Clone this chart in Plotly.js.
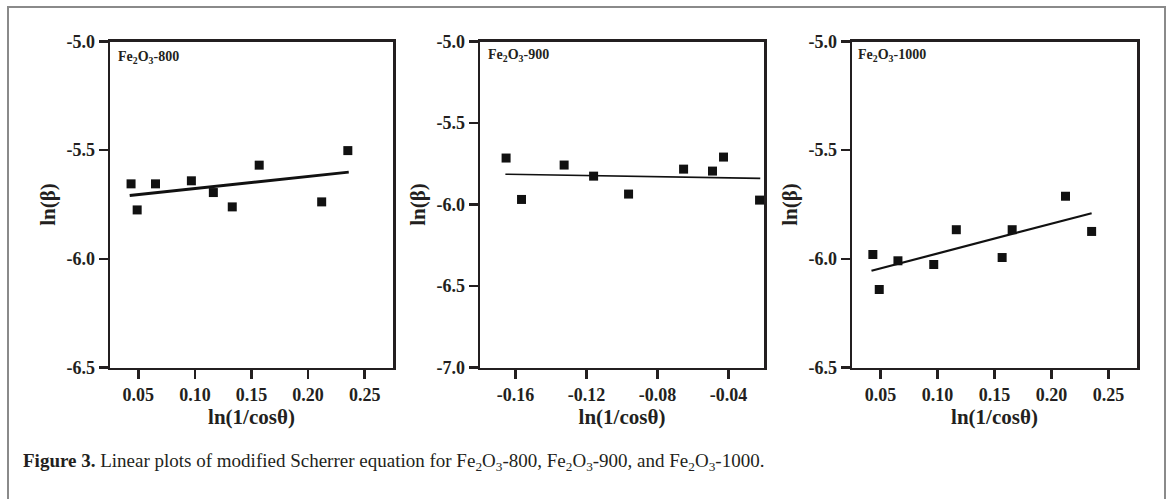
<!DOCTYPE html>
<html>
<head>
<meta charset="utf-8">
<script src="https://cdn.plot.ly/plotly-3.0.1.min.js"></script>
<style>html,body{margin:0;padding:0;background:#fff;}#chart{width:1168px;height:499px;}</style>
</head>
<body>
<div id="chart"></div>
<script>
// Fe2O3-800
const x800 = [0.0436, 0.0490, 0.0652, 0.0969, 0.1163, 0.1330, 0.1568, 0.2120, 0.2351];
const y800 = [-5.655, -5.775, -5.655, -5.641, -5.695, -5.761, -5.569, -5.738, -5.502];
const fitX800 = [0.0424, 0.2359];
const fitY800 = [-5.709, -5.601];
// Fe2O3-900
const x900 = [-0.1653, -0.1566, -0.1326, -0.1160, -0.0963, -0.0653, -0.0490, -0.0428, -0.0225];
const y900 = [-5.715, -5.969, -5.758, -5.826, -5.936, -5.783, -5.795, -5.709, -5.973];
const fitX900 = [-0.1657, -0.0221];
const fitY900 = [-5.814, -5.840];
// Fe2O3-1000
const x1000 = [0.0433, 0.0489, 0.0653, 0.0967, 0.1165, 0.1567, 0.1655, 0.2123, 0.2352];
const y1000 = [-5.980, -6.141, -6.009, -6.026, -5.866, -5.994, -5.866, -5.712, -5.874];
const fitX1000 = [0.0421, 0.2352];
const fitY1000 = [-6.055, -5.790];

// tick labels
const xTicksPos = [0.05, 0.10, 0.15, 0.20, 0.25];
const xTicksPosText = ['0.05', '0.10', '0.15', '0.20', '0.25'];
const xTicksNeg = [-0.16, -0.12, -0.08, -0.04];
const xTicksNegText = ['-0.16', '-0.12', '-0.08', '-0.04'];
const yTicksA = [-6.5, -6.0, -5.5, -5.0];
const yTicksAText = ['-6.5', '-6.0', '-5.5', '-5.0'];
const yTicksB = [-7.0, -6.5, -6.0, -5.5, -5.0];
const yTicksBText = ['-7.0', '-6.5', '-6.0', '-5.5', '-5.0'];
const panelLabels = ['Fe<sub>2</sub>O<sub>3</sub>-800', 'Fe<sub>2</sub>O<sub>3</sub>-900', 'Fe<sub>2</sub>O<sub>3</sub>-1000'];
const xTitle = 'ln(1/cosθ)';
const yTitle = 'ln(β)';
const caption = '<b>Figure 3.</b> Linear plots of modified Scherrer equation for Fe<sub>2</sub>O<sub>3</sub>-800, Fe<sub>2</sub>O<sub>3</sub>-900, and Fe<sub>2</sub>O<sub>3</sub>-1000.';

const W = 1168, H = 499;
const px = v => v / W;
const py = v => (H - v) / H;

const serif = 'Liberation Serif, Times New Roman, serif';
const tickFont = {family: serif, size: 18, color: '#231f20', weight: 700};
const titleFont = {family: serif, size: 21, color: '#231f20', weight: 700};

function scatter(x, y, xa, ya) {
  return {x: x, y: y, xaxis: xa, yaxis: ya, type: 'scatter', mode: 'markers',
    marker: {symbol: 'square', size: 9, color: '#111'}, cliponaxis: false, showlegend: false, hoverinfo: 'x+y'};
}
function fit(x, y, xa, ya, w) {
  return {x: x, y: y, xaxis: xa, yaxis: ya, type: 'scatter', mode: 'lines',
    line: {color: '#111', width: w}, showlegend: false, hoverinfo: 'skip'};
}

const data = [
  fit(fitX800, fitY800, 'x', 'y', 3),
  scatter(x800, y800, 'x', 'y'),
  fit(fitX900, fitY900, 'x2', 'y2', 1.6),
  scatter(x900, y900, 'x2', 'y2'),
  fit(fitX1000, fitY1000, 'x3', 'y3', 2.2),
  scatter(x1000, y1000, 'x3', 'y3')
];

const yDom = [py(367.5), py(41.5)];
function xAxis(dom, range, tv, tt, anchor) {
  return {domain: dom, range: range, anchor: anchor, tickvals: tv, ticktext: tt,
    showline: true, mirror: true, linecolor: '#231f20', linewidth: 2.5,
    ticks: 'outside', ticklen: 9, tickwidth: 2.5, tickcolor: '#231f20',
    showgrid: false, zeroline: false, tickfont: tickFont,
    title: {text: xTitle, font: titleFont, standoff: 0}, automargin: false};
}
function yAxis(range, tv, tt, anchor) {
  return {domain: yDom, range: range, anchor: anchor, tickvals: tv, ticktext: tt,
    showline: true, mirror: true, linecolor: '#231f20', linewidth: 2.5,
    ticks: 'outside', ticklen: 9, tickwidth: 2.5, tickcolor: '#231f20',
    showgrid: false, zeroline: false, tickfont: tickFont,
    title: {text: yTitle, font: titleFont, standoff: 5}, automargin: false};
}

const layout = {
  width: W, height: H,
  margin: {l: 0, r: 0, t: 0, b: 0},
  paper_bgcolor: '#fff', plot_bgcolor: '#fff',
  showlegend: false,
  xaxis: xAxis([px(110), px(393)], [0.025, 0.275], xTicksPos, xTicksPosText, 'y'),
  yaxis: yAxis([-6.5, -5.0], yTicksA, yTicksAText, 'x'),
  xaxis2: xAxis([px(480), px(764)], [-0.18, -0.02], xTicksNeg, xTicksNegText, 'y2'),
  yaxis2: yAxis([-7.0, -5.0], yTicksB, yTicksBText, 'x2'),
  xaxis3: xAxis([px(852), px(1137)], [0.025, 0.275], xTicksPos, xTicksPosText, 'y3'),
  yaxis3: yAxis([-6.5, -5.0], yTicksA, yTicksAText, 'x3'),
  shapes: [
    {type: 'rect', xref: 'paper', yref: 'paper', x0: px(8), x1: px(1165), y0: -0.1, y1: py(7),
     line: {color: '#8a8a8a', width: 2}, fillcolor: 'rgba(0,0,0,0)', layer: 'below'}
  ],
  annotations: [
    {xref: 'paper', yref: 'paper', x: px(116), y: py(57), xanchor: 'left', yanchor: 'middle', showarrow: false,
     text: '<b>' + panelLabels[0] + '</b>', font: {family: serif, size: 14, color: '#231f20'}},
    {xref: 'paper', yref: 'paper', x: px(486), y: py(55), xanchor: 'left', yanchor: 'middle', showarrow: false,
     text: '<b>' + panelLabels[1] + '</b>', font: {family: serif, size: 14, color: '#231f20'}},
    {xref: 'paper', yref: 'paper', x: px(856), y: py(55), xanchor: 'left', yanchor: 'middle', showarrow: false,
     text: '<b>' + panelLabels[2] + '</b>', font: {family: serif, size: 14, color: '#231f20'}},
    {xref: 'paper', yref: 'paper', x: px(21), y: py(462), xanchor: 'left', yanchor: 'middle', showarrow: false,
     text: caption, font: {family: serif, size: 19, color: '#231f20'}}
  ]
};

Plotly.newPlot('chart', data, layout, {staticPlot: true, displayModeBar: false});
</script>
</body>
</html>
